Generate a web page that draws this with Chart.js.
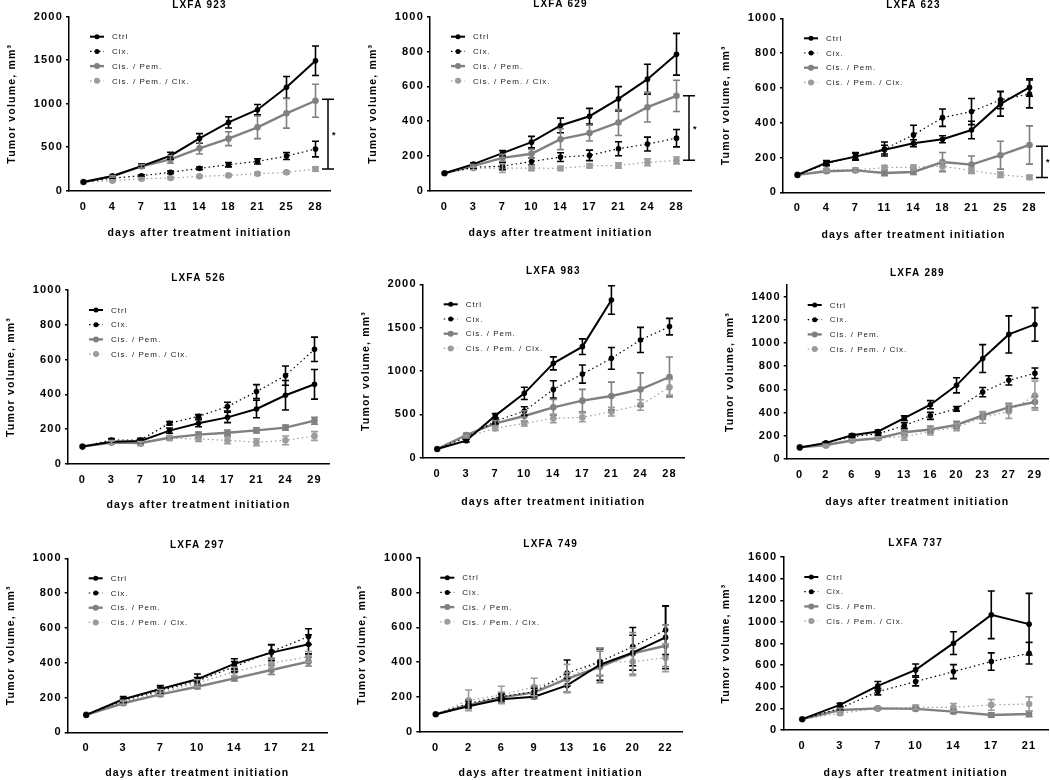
<!DOCTYPE html>
<html>
<head>
<meta charset="utf-8">
<script src="https://cdn.jsdelivr.net/npm/chart.js@4.4.0/dist/chart.umd.min.js"></script>
<style>
  html, body { margin: 0; padding: 0; background: #fff; width: 1050px; height: 780px; overflow: hidden; }
  canvas { position: absolute; }
</style>
</head>
<body>
<script>
// ---- data ----
const models = ["LXFA 923", "LXFA 629", "LXFA 623", "LXFA 526", "LXFA 983", "LXFA 289", "LXFA 297", "LXFA 749", "LXFA 737"];
const seriesNames = ["Ctrl", "Cix.", "Cis. / Pem.", "Cis. / Pem. / Cix."];

const days = [
  ["0", "4", "7", "11", "14", "18", "21", "25", "28"],
  ["0", "3", "7", "10", "14", "17", "21", "24", "28"],
  ["0", "4", "7", "11", "14", "18", "21", "25", "28"],
  ["0", "3", "7", "10", "14", "17", "21", "24", "29"],
  ["0", "3", "7", "10", "14", "17", "21", "24", "28"],
  ["0", "2", "6", "9", "13", "16", "20", "23", "27", "29"],
  ["0", "3", "7", "10", "14", "17", "21"],
  ["0", "2", "6", "9", "13", "16", "20", "22"],
  ["0", "3", "7", "10", "14", "17", "21"]
];

const yMax = [2000, 1000, 1000, 1000, 2000, 1500, 1000, 1000, 1600];
const yStep = [500, 200, 200, 200, 500, 200, 200, 200, 200];

const ctrlMean = [
  [100, 169, 283, 402, 601, 785, 931, 1188, 1494],
  [100, 153, 216, 279, 375, 428, 528, 641, 784],
  [100, 170, 205, 245, 282, 305, 358, 508, 603],
  [100, 128, 132, 192, 234, 268, 316, 395, 458],
  [100, 196, 485, 742, 1088, 1281, 1819, null, null],
  [100, 139, 205, 237, 352, 468, 635, 866, 1074, 1160],
  [100, 190, 249, 305, 393, 458, 506],
  [100, 146, 186, 201, 266, 385, 454, 542],
  [100, 232, 408, 556, 803, 1065, 979]
];
const ctrlErr = [
  [0, 12, 25, 40, 55, 65, 60, 125, 170],
  [0, 8, 15, 33, 42, 45, 70, 86, 120],
  [0, 12, 20, 25, 20, 20, 50, 70, 50],
  [0, 8, 10, 15, 20, 30, 50, 85, 85],
  [0, 15, 25, 70, 75, 90, 165, null, null],
  [0, 8, 10, 12, 20, 35, 65, 120, 160, 145],
  [0, 15, 20, 30, 30, 45, 55],
  [0, 10, 10, 10, 40, 90, 100, 180],
  [0, 15, 40, 55, 105, 220, 285]
];

const cixMean = [
  [100, 145, 172, 211, 257, 299, 337, 398, 479],
  [100, 135, 141, 168, 193, 203, 241, 268, 302],
  [100, 163, 209, 249, 330, 429, 464, 531, 565],
  [100, 138, 138, 234, 274, 330, 416, 508, 659],
  [100, 235, 420, 538, 788, 965, 1146, 1358, 1512],
  [100, 136, 193, 217, 289, 372, 433, 577, 678, 739],
  [100, 182, 240, 295, 377, 464, 550],
  [100, 163, 201, 230, 337, 402, 489, 584],
  [100, 200, 355, 448, 540, 633, 710]
];
const cixErr = [
  [0, 10, 12, 15, 15, 25, 30, 40, 90],
  [0, 8, 20, 20, 25, 30, 40, 40, 50],
  [0, 10, 20, 40, 55, 50, 75, 50, 80],
  [0, 8, 10, 10, 10, 25, 40, 55, 70],
  [0, 20, 30, 50, 100, 105, 125, 145, 95],
  [0, 8, 10, 12, 25, 30, 20, 40, 40, 45],
  [0, 10, 20, 20, 30, 40, 45],
  [0, 15, 15, 20, 75, 80, 110, 140],
  [0, 15, 30, 40, 65, 80, 100]
];

const cpMean = [
  [100, 165, 280, 360, 487, 598, 728, 889, 1034],
  [100, 143, 189, 212, 296, 331, 392, 480, 545],
  [100, 121, 126, 111, 117, 174, 159, 213, 272],
  [100, 123, 121, 151, 169, 180, 193, 209, 249],
  [100, 262, 396, 481, 581, 658, 712, 788, 931],
  [100, 121, 159, 179, 231, 254, 294, 375, 445, 491],
  [100, 167, 218, 262, 310, 358, 406],
  [100, 153, 197, 226, 303, 372, 450, 494],
  [100, 185, 200, 195, 170, 139, 148]
];
const cpErr = [
  [0, 10, 20, 45, 65, 80, 130, 170, 190],
  [0, 8, 20, 25, 60, 45, 75, 85, 90],
  [0, 8, 10, 15, 15, 55, 50, 80, 110],
  [0, 8, 8, 12, 15, 15, 15, 15, 20],
  [0, 20, 30, 60, 90, 130, 160, 190, 230],
  [0, 8, 10, 10, 20, 30, 30, 30, 35, 50],
  [0, 10, 12, 12, 15, 25, 25],
  [0, 30, 30, 35, 35, 90, 120, 120],
  [0, 15, 15, 15, 20, 20, 25]
];

const cpcMean = [
  [100, 115, 138, 146, 165, 176, 195, 211, 249],
  [100, 130, 130, 130, 128, 143, 145, 163, 174],
  [100, 128, 128, 142, 144, 150, 125, 101, 86],
  [100, 125, 117, 148, 144, 136, 125, 136, 161],
  [100, 242, 338, 396, 454, 465, 531, 608, 812],
  [100, 115, 159, 179, 193, 237, 274, 358, 410, 546],
  [100, 172, 230, 282, 349, 397, 435],
  [100, 180, 211, 257, 307, 402, 402, 425],
  [100, 155, 200, 210, 210, 232, 241]
];
const cpcErr = [
  [0, 10, 12, 12, 12, 12, 15, 15, 25],
  [0, 10, 25, 15, 12, 12, 15, 20, 20],
  [0, 8, 10, 12, 12, 25, 15, 15, 12],
  [0, 10, 10, 12, 15, 20, 20, 25, 25],
  [0, 15, 25, 30, 50, 50, 50, 60, 90],
  [0, 8, 10, 12, 30, 30, 30, 50, 60, 125],
  [0, 12, 15, 20, 25, 30, 30],
  [0, 60, 50, 50, 80, 80, 80, 80],
  [0, 15, 15, 20, 35, 50, 65]
];

// significance bracket (upper / lower end, in mm3)
const sigHigh = [1050, 545, 265, null, null, null, null, null, null];
const sigLow = [250, 175, 85, null, null, null, null, null, null];

// ---- layout of the 9 panels (plot area in page px) ----
const frames = [
  { l: 69, t: 16.7, r: 330, b: 190.7, ty: 5, xt: 233 },
  { l: 430, t: 16.7, r: 691, b: 190.7, ty: 4.7, xt: 233 },
  { l: 783, t: 18.3, r: 1044, b: 192.3, ty: 5.3, xt: 235 },
  { l: 68, t: 290, r: 329, b: 464, ty: 278, xt: 505 },
  { l: 422.7, t: 284.3, r: 684, b: 457.7, ty: 271, xt: 502 },
  { l: 786.7, t: 285, r: 1048, b: 459, ty: 273.3, xt: 502 },
  { l: 67.7, t: 558.3, r: 327, b: 732.3, ty: 545, xt: 773 },
  { l: 419.3, t: 557.7, r: 682, b: 731.7, ty: 544.3, xt: 773 },
  { l: 783.3, t: 557, r: 1048, b: 730, ty: 543.3, xt: 773 }
];

const FONT = "'Liberation Sans', Arial, sans-serif";
const styles = [
  { color: "#000000", width: 2, dash: [], radius: 2.8 },
  { color: "#000000", width: 1.2, dash: [1.5, 3], radius: 2.8 },
  { color: "#808080", width: 2.4, dash: [], radius: 3.3 },
  { color: "#9c9c9c", width: 1.2, dash: [1.5, 3], radius: 3.3 }
];

const spacingPlugin = {
  id: "spacing",
  beforeDraw: function (chart) {
    chart.ctx.letterSpacing = "1.2px";
  }
};

const errorBars = {
  id: "errorBars",
  afterDatasetsDraw: function (chart) {
    const ctx = chart.ctx;
    const y = chart.scales.y;
    chart.data.datasets.forEach(function (ds, i) {
      const meta = chart.getDatasetMeta(i);
      ctx.save();
      ctx.strokeStyle = ds.borderColor;
      ctx.lineWidth = 1.6;
      meta.data.forEach(function (pt, j) {
        const m = ds.data[j];
        const e = ds.errors[j];
        if (m == null || !e) return;
        const y1 = y.getPixelForValue(m + e);
        const y2 = y.getPixelForValue(m - e);
        ctx.beginPath();
        ctx.moveTo(pt.x, y1);
        ctx.lineTo(pt.x, y2);
        ctx.moveTo(pt.x - 3.5, y1);
        ctx.lineTo(pt.x + 3.5, y1);
        ctx.moveTo(pt.x - 3.5, y2);
        ctx.lineTo(pt.x + 3.5, y2);
        ctx.stroke();
      });
      ctx.restore();
    });
  }
};

const bracket = {
  id: "bracket",
  afterDraw: function (chart, args, opts) {
    if (opts.high == null) return;
    const ctx = chart.ctx;
    const y = chart.scales.y;
    const x = chart.chartArea.right - 2;
    const y1 = y.getPixelForValue(opts.high);
    const y2 = y.getPixelForValue(opts.low);
    ctx.save();
    ctx.strokeStyle = "#000";
    ctx.lineWidth = 1.5;
    ctx.beginPath();
    ctx.moveTo(x, y1);
    ctx.lineTo(x, y2);
    ctx.moveTo(x - 6, y1);
    ctx.lineTo(x + 6, y1);
    ctx.moveTo(x - 6, y2);
    ctx.lineTo(x + 6, y2);
    ctx.stroke();
    ctx.fillStyle = "#000";
    ctx.font = "bold 9px " + FONT;
    ctx.textAlign = "left";
    ctx.textBaseline = "middle";
    ctx.fillText("*", x + 4, (y1 + y2) / 2 + 1);
    ctx.restore();
  }
};

const innerLegend = {
  id: "innerLegend",
  afterDraw: function (chart) {
    const ctx = chart.ctx;
    const x0 = chart.chartArea.left + 21;
    const y0 = chart.chartArea.top + 20;
    ctx.save();
    ctx.letterSpacing = "1px";
    chart.data.datasets.forEach(function (ds, i) {
      const yy = y0 + i * 14.7;
      ctx.strokeStyle = ds.borderColor;
      ctx.lineWidth = ds.borderWidth;
      ctx.setLineDash(ds.borderDash);
      ctx.beginPath();
      ctx.moveTo(x0, yy);
      ctx.lineTo(x0 + 14, yy);
      ctx.stroke();
      ctx.setLineDash([]);
      ctx.fillStyle = ds.borderColor;
      ctx.beginPath();
      ctx.arc(x0 + 7, yy, ds.pointRadius - 0.3, 0, Math.PI * 2);
      ctx.fill();
      ctx.fillStyle = "#222";
      ctx.font = "8px " + FONT;
      ctx.textAlign = "left";
      ctx.textBaseline = "middle";
      ctx.fillText(ds.label, x0 + 22, yy + 0.5);
    });
    ctx.restore();
  }
};

function makePanel(p) {
  const f = frames[p];
  const left = Math.round(f.l - 63);
  const top = Math.round(f.ty - 6.5);
  const width = Math.round(f.r + 8) - left;
  const height = Math.round(f.xt + 6) - top;
  const yWidth = f.l - left;
  const xHeight = top + height - f.b;
  const padRight = width - (f.r - left);

  const canvas = document.createElement("canvas");
  canvas.width = width;
  canvas.height = height;
  canvas.style.left = left + "px";
  canvas.style.top = top + "px";
  document.body.appendChild(canvas);

  const means = [ctrlMean[p], cixMean[p], cpMean[p], cpcMean[p]];
  const errs = [ctrlErr[p], cixErr[p], cpErr[p], cpcErr[p]];
  const datasets = seriesNames.map(function (name, i) {
    const s = styles[i];
    return {
      label: name,
      data: means[i],
      errors: errs[i],
      borderColor: s.color,
      backgroundColor: s.color,
      borderWidth: s.width,
      borderDash: s.dash,
      pointRadius: s.radius,
      pointBorderWidth: 0,
      pointBackgroundColor: s.color,
      tension: 0,
      spanGaps: false
    };
  });

  new Chart(canvas, {
    type: "line",
    data: { labels: days[p], datasets: datasets },
    options: {
      responsive: false,
      animation: false,
      devicePixelRatio: 1,
      layout: { padding: { left: 0, top: 0, bottom: 0, right: padRight } },
      plugins: {
        legend: { display: false },
        tooltip: { enabled: false },
        title: {
          display: true,
          text: models[p],
          fullSize: false,
          color: "#000",
          font: { family: FONT, size: 10, weight: "bold", lineHeight: 1.3 },
          padding: { top: 0, bottom: f.t - top - 13 }
        },
        bracket: { high: sigHigh[p], low: sigLow[p] }
      },
      scales: {
        x: {
          type: "category",
          offset: true,
          grid: { display: false, drawTicks: false },
          border: { display: true, color: "#000", width: 1.5 },
          ticks: { color: "#000", padding: 9.5, font: { family: FONT, size: 11, weight: "bold" }, maxRotation: 0, autoSkip: false },
          title: {
            display: true,
            text: "days after treatment initiation",
            color: "#000",
            padding: 0,
            font: { family: FONT, size: 10.5, weight: "bold", lineHeight: 1.2 }
          },
          afterFit: function (scale) { scale.height = xHeight; }
        },
        y: {
          min: 0,
          max: yMax[p],
          grid: { drawOnChartArea: false, drawTicks: true, tickLength: 3, color: "#000", lineWidth: 1.5 },
          border: { display: true, color: "#000", width: 1.5 },
          ticks: {
            stepSize: yStep[p],
            includeBounds: false,
            color: "#000",
            padding: 3,
            font: { family: FONT, size: 11, weight: "bold" },
            callback: function (v) { return String(v); }
          },
          afterBuildTicks: function (scale) {
            scale.ticks = scale.ticks.filter(function (t) { return t.value % yStep[p] === 0; });
          },
          title: {
            display: true,
            text: "Tumor volume, mm\u00b3",
            color: "#000",
            padding: 0,
            font: { family: FONT, size: 10.5, weight: "bold", lineHeight: 1.2 }
          },
          afterFit: function (scale) { scale.width = yWidth; }
        }
      }
    },
    plugins: [spacingPlugin, errorBars, bracket, innerLegend]
  });
}

for (let p = 0; p < models.length; p++) {
  makePanel(p);
}
</script>
</body>
</html>
